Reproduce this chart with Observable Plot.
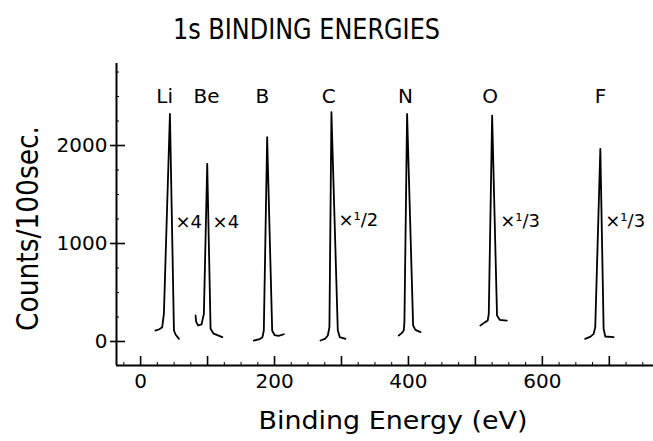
<!DOCTYPE html>
<html><head><meta charset="utf-8">
<script src="https://cdn.jsdelivr.net/npm/d3@7"></script>
<script src="https://cdn.jsdelivr.net/npm/@observablehq/plot@0.6"></script>
<style>body{margin:0;background:#fff} svg{display:block}</style>
</head><body><div id="chart"></div>
<script>
// ---- data ----
const elements     = ["Li", "Be", "B", "C", "N", "O", "F"];
const labelEnergy  = [36, 98.5, 182, 281, 395.5, 522, 687];
const labelCounts  = [2500, 2500, 2500, 2500, 2500, 2500, 2500];
const factorText   = ["×4", "×4", "×¹/2", "×¹/3", "×¹/3"];
const factorEnergy = [52, 107.5, 295.5, 537, 694];
const factorCounts = [1214, 1214, 1235, 1225, 1225];

// peak traces: [binding energy (eV), counts/100 sec]
const peakLi = [[22,112],[28,125],[32.3,146],[34.8,285],[43.8,2323],[49.8,112],[52.2,71],[57.2,27]];
const peakBe = [[82,265],[83,200],[86,163],[91,175],[94.5,282],[99.5,1813],[104.5,129],[109,80],[122,44]];
const peakB  = [[169,10],[178,25],[182,44],[184,112],[189,2085],[196.5,112],[200,66],[206,58],[214,74]];
const peakC  = [[268.7,10],[276,30],[279.6,61],[282,146],[285,2340],[294.5,112],[297.5,44],[306,27]];
const peakN  = [[385.5,61],[390,85],[393,112],[394,197],[398,2323],[407,163],[410.4,119],[418,95]];
const peakO  = [[507.5,163],[514,195],[518.4,214],[520,282],[525,2306],[532.3,265],[536.3,221],[547,214]];
const peakF  = [[664,27],[672,50],[676.6,78],[679,146],[686.6,1966],[691.5,129],[694,51],[706.4,44]];

const xMajor  = [0, 100, 200, 300, 400, 500, 600, 700];
const xLabels = [0, 200, 400, 600];
const xMinor  = d3.range(-25, 766, 25).filter(v => v % 100 !== 0);
const yMajor  = [0, 1000, 2000];
const yMinor  = d3.range(250, 2800, 250).filter(v => v % 1000 !== 0);
const xDomain = [-36, 766];
const yDomain = [-245, 2837];

const titleText = "1s BINDING ENERGIES";
const xTitle = "Binding Energy (eV)";
const yTitle = "Counts/100sec.";

// ---- build ----
const peaks = [peakLi, peakBe, peakB, peakC, peakN, peakO, peakF];
const table = peaks.flatMap((p, k) => p.map(([e, c]) => ({el: elements[k], e, c})));

const W = 653, H = 441, mL = 116, mR = 0, mT = 63, mB = 76;
const innerW = W - mL - mR, innerH = H - mT - mB;

const idx = d3.range(elements.length);
const fidx = d3.range(factorText.length);

const chart = Plot.plot({
  width: W, height: H,
  marginLeft: mL, marginRight: mR, marginTop: mT, marginBottom: mB,
  x: {domain: xDomain},
  y: {domain: yDomain},
  style: {fontFamily: "'DejaVu Sans', sans-serif", fontSize: "20px", color: "black", background: "white"},
  marks: [
    // axis lines
    Plot.ruleY([yDomain[0]], {stroke: "black", strokeWidth: 2}),
    Plot.ruleX([xDomain[0]], {stroke: "black", strokeWidth: 2}),
    // ticks (inward)
    Plot.ruleX(xMajor, {stroke: "black", strokeWidth: 1.6, insetTop: innerH - 9}),
    Plot.ruleX(xMinor, {stroke: "black", strokeWidth: 1, insetTop: innerH - 3}),
    Plot.ruleY(yMajor, {stroke: "black", strokeWidth: 1.6, insetLeft: -6, insetRight: innerW - 9}),
    Plot.ruleY(yMinor, {stroke: "black", strokeWidth: 1, insetRight: innerW - 3}),
    // tick labels
    Plot.axisX(xLabels, {tickSize: 0, tickPadding: 8, fontSize: 20, label: null, tickFormat: d => String(d)}),
    Plot.axisY(yMajor, {tickSize: 0, tickPadding: 9, fontSize: 20, label: null, tickFormat: d => String(d)}),
    // peaks
    Plot.line(table, {x: "e", y: "c", z: "el", stroke: "black", strokeWidth: 1.8, strokeLinejoin: "round", curve: "linear"}),
    // element labels
    Plot.text(idx, {x: i => labelEnergy[i], y: i => labelCounts[i], text: i => elements[i], fontSize: 20, lineAnchor: "middle"}),
    // scale factors
    Plot.text(fidx, {x: i => factorEnergy[i], y: i => factorCounts[i], text: i => factorText[i], fontSize: 18, textAnchor: "start", lineAnchor: "middle"}),
    // titles
    Plot.text([titleText], {text: d => d, frameAnchor: "top-left", dx: 190, dy: -25, lineAnchor: "bottom", textAnchor: "middle", fontSize: 29}),
    Plot.text([xTitle], {text: d => d, frameAnchor: "bottom-left", dx: 276.5, dy: 63, lineAnchor: "bottom", textAnchor: "middle", fontSize: 25}),
    Plot.text([yTitle], {text: d => d, frameAnchor: "top-left", dx: -88, dy: 165, lineAnchor: "middle", textAnchor: "middle", rotate: -90, fontSize: 30})
  ]
});

// narrow lettering of the original: fit long strings to their measured widths
const fitWidths = new Map([[titleText, 267], [xTitle, 269], [yTitle, 205]]);
d3.select(chart).selectAll("text").each(function () {
  const w = fitWidths.get(this.textContent);
  if (w) { this.setAttribute("textLength", w); this.setAttribute("lengthAdjust", "spacingAndGlyphs"); }
});

document.getElementById("chart").appendChild(chart);
</script>
</body></html>
